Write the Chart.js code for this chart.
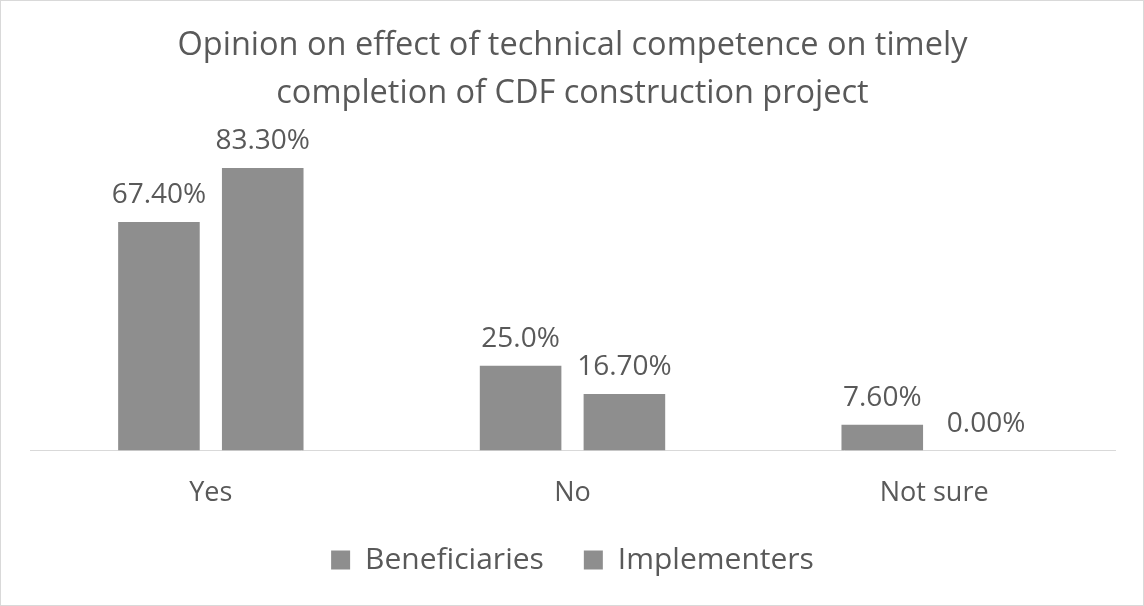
<!DOCTYPE html>
<html>
<head>
<meta charset="utf-8">
<script src="https://cdn.jsdelivr.net/npm/chart.js@4.4.1/dist/chart.umd.min.js"></script>
<style>
  html, body { margin: 0; padding: 0; background: #ffffff; }
  #wrap { width: 1144px; height: 606px; position: relative; }
</style>
</head>
<body>
<div id="wrap"><canvas id="chart" width="1144" height="606"></canvas></div>
<script>
// chart values
const categories = ['Yes', 'No', 'Not sure'];
const beneficiaries = [67.4, 25.0, 7.6];
const implementers = [83.3, 16.7, 0.0];
const beneficiaryLabels = ['67.40%', '25.0%', '7.60%'];
const implementerLabels = ['83.30%', '16.70%', '0.00%'];
const titleLines = ['Opinion on effect of technical competence on timely', 'completion of CDF construction project'];

const barGrey = '#8e8e8e';
const textGrey = '#595959';
const fontFamily = '"Open Sans", "Noto Sans", sans-serif';

// draws the value above each bar
const valueLabels = {
    id: 'valueLabels',
    afterDatasetsDraw(chart) {
        const ctx = chart.ctx;
        const texts = [beneficiaryLabels, implementerLabels];
        ctx.save();
        ctx.font = '28px ' + fontFamily;
        ctx.fillStyle = textGrey;
        ctx.textAlign = 'center';
        ctx.textBaseline = 'alphabetic';
        chart.data.datasets.forEach(function (ds, d) {
            chart.getDatasetMeta(d).data.forEach(function (bar, i) {
                ctx.fillText(texts[d][i], bar.x, bar.y - 19);
            });
        });
        ctx.restore();
    }
};

// light outline round the whole chart
const frame = {
    id: 'frame',
    beforeDraw(chart) {
        const ctx = chart.ctx;
        ctx.save();
        ctx.fillStyle = '#ffffff';
        ctx.fillRect(0, 0, chart.width, chart.height);
        ctx.strokeStyle = '#d9d9d9';
        ctx.lineWidth = 1;
        ctx.strokeRect(0.5, 0.5, chart.width - 1, chart.height - 1);
        ctx.restore();
    }
};

new Chart(document.getElementById('chart'), {
    type: 'bar',
    data: {
        labels: categories,
        datasets: [{
            label: 'Beneficiaries',
            data: beneficiaries,
            backgroundColor: barGrey,
            borderWidth: 0
        }, {
            label: 'Implementers',
            data: implementers,
            backgroundColor: barGrey,
            borderWidth: 0
        }]
    },
    options: {
        responsive: false,
        animation: false,
        layout: { padding: { left: 30, right: 29, top: 22, bottom: 21 } },
        datasets: {
            bar: { categoryPercentage: 0.574, barPercentage: 0.786 }
        },
        scales: {
            x: {
                grid: { display: false },
                border: { color: '#d9d9d9', width: 1 },
                ticks: { color: textGrey, font: { family: fontFamily, size: 27 }, padding: 19 },
                afterFit(scale) { scale.height -= 24; }
            },
            y: {
                display: false,
                min: 0,
                max: 93.65
            }
        },
        plugins: {
            title: {
                display: true,
                text: titleLines,
                color: textGrey,
                font: { family: fontFamily, size: 32.5, weight: 'normal', lineHeight: 1.477 },
                padding: { top: 0, bottom: 15 }
            },
            legend: {
                position: 'bottom',
                labels: {
                    color: textGrey,
                    font: { family: fontFamily, size: 30 },
                    boxWidth: 19,
                    boxHeight: 19,
                    padding: 40
                }
            },
            tooltip: { enabled: false }
        }
    },
    plugins: [frame, valueLabels]
});
</script>
</body>
</html>
